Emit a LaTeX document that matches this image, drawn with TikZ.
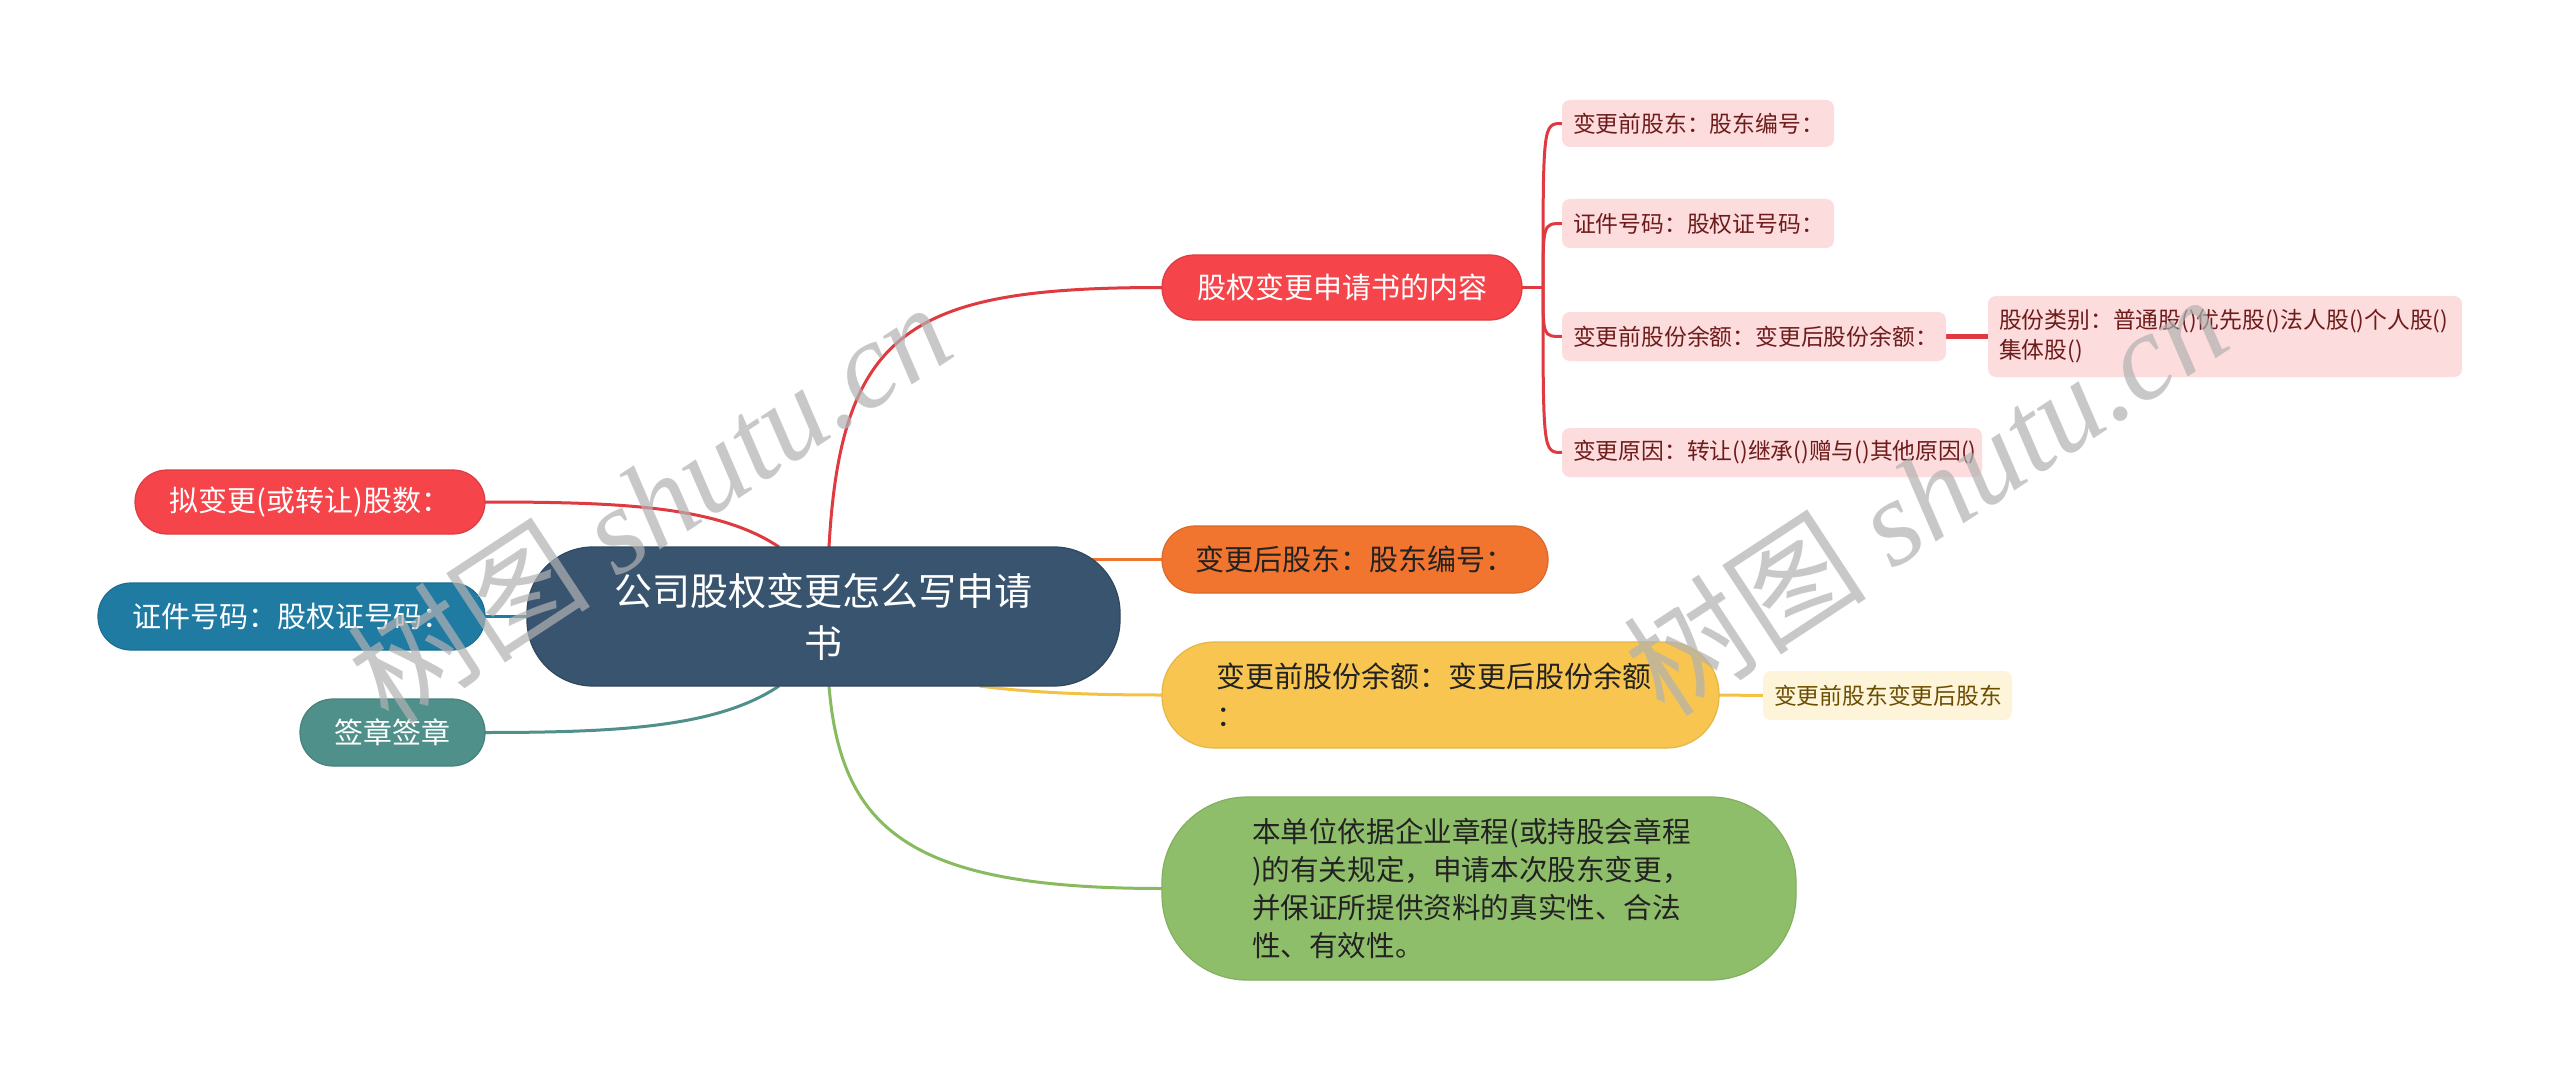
\documentclass[tikz,border=0pt]{standalone}
\usepackage{fontspec}
\setmainfont{Noto Sans CJK SC}
\newfontfamily\wmlatin{Liberation Serif}
\usetikzlibrary{calc,backgrounds}
\definecolor{rootc}{HTML}{38546F}
\definecolor{redc}{HTML}{F5444A}
\definecolor{redl}{HTML}{DE3A40}
\definecolor{bluec}{HTML}{1F7BA2}
\definecolor{tealc}{HTML}{4F908A}
\definecolor{orangec}{HTML}{F2752F}
\definecolor{yellowc}{HTML}{F8C650}
\definecolor{yellowl}{HTML}{F3C243}
\definecolor{greenc}{HTML}{8FBE6B}
\definecolor{greenl}{HTML}{88BA60}
\definecolor{pinkc}{HTML}{FCDCDC}
\definecolor{pinkt}{HTML}{6E1B1B}
\definecolor{creamc}{HTML}{FDF4DA}
\definecolor{creamt}{HTML}{6B4E00}
\definecolor{darkt}{HTML}{222222}
\begin{document}
\begin{tikzpicture}[x=1pt,y=-1pt,
  box/.style={inner ysep=0pt, outer sep=0pt},
  rootbox/.style={box, fill=rootc, draw=rootc!85!black, line width=1.2pt, text=white, rounded corners=66pt, align=center, inner xsep=0pt,
     font=\fontsize{38}{52}\selectfont},
  pill/.style={box, line width=1.2pt, rounded corners=32pt, align=center, inner xsep=0pt, font=\fontsize{29}{39}\selectfont},
  leaf/.style={box, fill=pinkc, text=pinkt, rounded corners=8pt, align=left, inner xsep=11pt, font=\fontsize{22.8}{30}\selectfont},
  conn/.style={line width=3pt},
  wm/.style={text=black!30, opacity=0.7, inner sep=0pt, font=\fontsize{122}{130}\selectfont}
  ]
\useasboundingbox (0,0) rectangle (2560,1078);

% ---------- nodes ----------
\node[rootbox, text width=593pt, minimum height=139pt] (root) at (823.5,616.5) {公司股权变更怎么写申请\\书};

\node[pill, fill=redc, draw=redc!90!black, text=white, text width=350pt, minimum height=64pt] (p1) at (310,502) {拟变更(或转让)股数：};
\node[pill, fill=bluec, draw=bluec!90!black, text=white, text width=387pt, minimum height=67pt, rounded corners=33pt] (p2) at (291.5,616.5) {证件号码：股权证号码：};
\node[pill, fill=tealc, draw=tealc!90!black, text=white, text width=185pt, minimum height=67pt, rounded corners=33pt] (p3) at (392.5,732.5) {签章签章};

\node[pill, fill=redc, draw=redc!90!black, text=white, text width=360pt, minimum height=65pt] (r1) at (1342,287.5) {股权变更申请书的内容};
\node[pill, fill=orangec, draw=orangec!90!black, text=darkt, text width=386pt, minimum height=67pt, rounded corners=33pt] (r2) at (1355,559.5) {变更后股东：股东编号：};
\node[pill, fill=yellowc, draw=yellowc!92!black, text=darkt, align=left, inner xsep=54pt, text width=449pt, minimum height=106pt, rounded corners=52pt] (r3) at (1440.5,695) {变更前股份余额：变更后股份余额\\：};
\node[pill, fill=greenc, draw=greenc!92!black, text=darkt, align=left, inner xsep=90pt, text width=454pt, minimum height=183pt, rounded corners=85pt, font=\fontsize{28.6}{38}\selectfont] (r4) at (1479,888.5) {本单位依据企业章程(或持股会章程\\)的有关规定，申请本次股东变更，\\并保证所提供资料的真实性、合法\\性、有效性。};

\node[leaf, text width=250pt, minimum height=47pt] (c1) at (1698,123.5) {变更前股东：股东编号：};
\node[leaf, text width=250pt, minimum height=49pt] (c2) at (1698,223.5) {证件号码：股权证号码：};
\node[leaf, text width=362pt, minimum height=49pt] (c3) at (1754,336.5) {变更前股份余额：变更后股份余额：};
\node[leaf, text width=398pt, minimum height=49pt] (c4) at (1772,452.5) {变更原因：转让()继承()赠与()其他原因()};
\node[leaf, text width=452pt, minimum height=81pt] (c5) at (2225,336.5) {股份类别：普通股()优先股()法人股()个人股()\\集体股()};
\node[leaf, fill=creamc, text=creamt, text width=227pt, minimum height=49pt] (y1) at (1887.5,695.5) {变更前股东变更后股东};

% ---------- connectors (behind nodes) ----------
\coordinate (rtop) at ($(root.north)+(5.5,0)$);
\coordinate (rbot) at ($(root.south)+(5.5,0)$);
\coordinate (ltop) at ($(root.north)+(-44.5,0)$);
\coordinate (lbot) at ($(root.south)+(-44.5,0)$);
\coordinate (ysrc) at ($(root.south)+(156,0)$);
\coordinate (fork) at ($(r1.east)+(21,0)$);
\begin{scope}[on background layer]
\fill[white] (0,0) rectangle (2560,1078);
\draw[conn, redl] (rtop) .. controls +(12,-220) and +(-248,0) .. (r1.west);
\draw[conn, greenl] (rbot) .. controls +(12,147) and +(-248,0) .. (r4.west);
\draw[conn, orangec] (r2.west) -- ++(-70,0);
\draw[conn, yellowl] (ysrc) .. controls +(60,8) and +(-50,0) .. (r3.west);
\draw[conn, redl] (ltop) .. controls +(-61,-41) and +(135,0) .. (p1.east);
\draw[conn, bluec] (root.west) -- (p2.east);
\draw[conn, tealc] (lbot) .. controls +(-61,41) and +(135,0) .. (p3.east);
\draw[conn, redl] (r1.east) -- (fork);
\draw[conn, redl] (fork) .. controls (fork |- c1.west) and (fork |- c1.west) .. (c1.west);
\draw[conn, redl] (fork) .. controls (fork |- c2.west) and (fork |- c2.west) .. (c2.west);
\draw[conn, redl] (fork) .. controls (fork |- c3.west) and (fork |- c3.west) .. (c3.west);
\draw[conn, redl] (fork) .. controls (fork |- c4.west) and (fork |- c4.west) .. (c4.west);
\draw[line width=5pt, redl] (c3.east) -- (c5.west);
\draw[conn, yellowl] (r3.east) -- (y1.west);
\end{scope}

% ---------- watermarks ----------
\node[wm, rotate=33.3] (wm1) at (649,502) {树图 {\wmlatin\itshape shutu.cn}};
\node[wm, rotate=33.3] (wm2) at (1925,494) {树图 {\wmlatin\itshape shutu.cn}};
\end{tikzpicture}
\end{document}
